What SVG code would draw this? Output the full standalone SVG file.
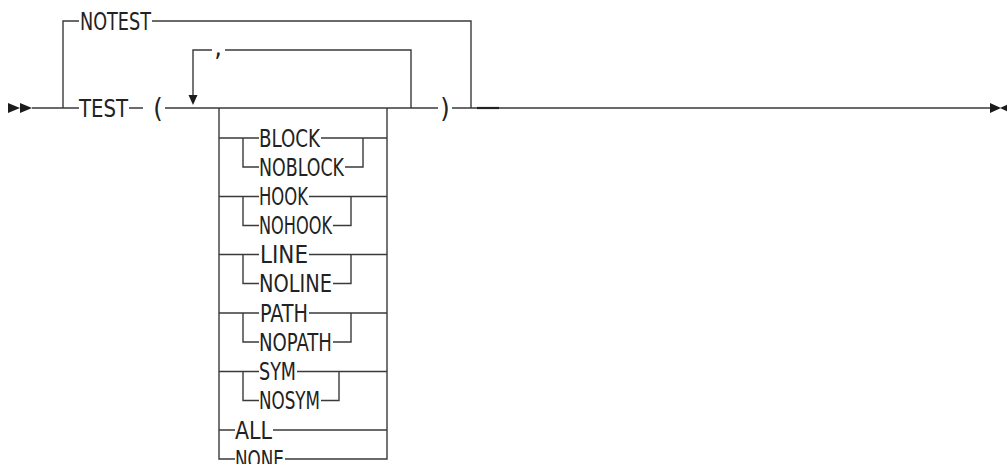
<svg xmlns="http://www.w3.org/2000/svg" width="1007" height="464" viewBox="0 0 1007 464">
<style>
.l{fill:none;stroke:#3a3a3a;stroke-width:1.4}
.k{fill:none;stroke:#222;stroke-width:2.2}
.a{fill:#1c1c1c;stroke:none}
.t{font-family:"DejaVu Sans Condensed","DejaVu Sans",sans-serif;font-size:25px;fill:#222}
.p{font-size:27px}
.m{text-anchor:middle}
</style>
<rect width="1007" height="464" fill="#fff"/>
<g id="connectors">
<path class="a" d="M8 103L20 108L8 113Z M20 103L32 108L20 113Z"/>
<path class="l" d="M32 108H79 M63 108V21H79 M152 21H471V108 M129 108H143 M165 108H438 M452 108H990"/>
<path class="k" d="M477 108H499"/>
<path class="a" d="M990 103L1001 108L990 113Z M1000 108L1011 103L1011 113Z"/>
<path class="l" d="M411 108V50H225 M212 50H193V95"/>
<path class="a" d="M188.5 95H197.5L193 105Z"/>
<path class="l" d="M219 108V459H235 M285 459H387V108"/>
<path class="l" d="M219 138H259 M321 138H387 M243 138V167H259 M345 167H363V138"/>
<path class="l" d="M219 196.5H259 M309 196.5H387 M243 196.5V225.5H259 M333 225.5H351V196.5"/>
<path class="l" d="M219 254.5H259 M309 254.5H387 M243 254.5V283.5H259 M333 283.5H351V254.5"/>
<path class="l" d="M219 313H259 M309 313H387 M243 313V342H259 M333 342H351V313"/>
<path class="l" d="M219 371.5H259 M297 371.5H387 M243 371.5V400.5H259 M321 400.5H339V371.5"/>
<path class="l" d="M219 430H235 M273 430H387"/>
</g>
<g id="node-notest"><text class="t" x="80" y="29.5" textLength="71" lengthAdjust="spacingAndGlyphs">NOTEST</text></g>
<g id="node-test"><text class="t" x="79" y="116.5" textLength="49" lengthAdjust="spacingAndGlyphs">TEST</text></g>
<g id="node-lparen"><text class="t p m" x="158" y="116.5">(</text></g>
<g id="node-rparen"><text class="t p m" x="445" y="116.5">)</text></g>
<g id="node-comma"><text class="t p m" x="218" y="56">,</text></g>
<g id="node-block"><text class="t" x="259" y="146.5" textLength="61" lengthAdjust="spacingAndGlyphs">BLOCK</text></g>
<g id="node-noblock"><text class="t" x="259" y="175.5" textLength="85" lengthAdjust="spacingAndGlyphs">NOBLOCK</text></g>
<g id="node-hook"><text class="t" x="259" y="205" textLength="49" lengthAdjust="spacingAndGlyphs">HOOK</text></g>
<g id="node-nohook"><text class="t" x="259" y="234" textLength="73" lengthAdjust="spacingAndGlyphs">NOHOOK</text></g>
<g id="node-line"><text class="t" x="260" y="263" textLength="48" lengthAdjust="spacingAndGlyphs">LINE</text></g>
<g id="node-noline"><text class="t" x="259" y="292" textLength="73" lengthAdjust="spacingAndGlyphs">NOLINE</text></g>
<g id="node-path"><text class="t" x="260" y="321.5" textLength="48" lengthAdjust="spacingAndGlyphs">PATH</text></g>
<g id="node-nopath"><text class="t" x="259" y="350.5" textLength="73" lengthAdjust="spacingAndGlyphs">NOPATH</text></g>
<g id="node-sym"><text class="t" x="259" y="380" textLength="37" lengthAdjust="spacingAndGlyphs">SYM</text></g>
<g id="node-nosym"><text class="t" x="259" y="409" textLength="61" lengthAdjust="spacingAndGlyphs">NOSYM</text></g>
<g id="node-all"><text class="t" x="235" y="438.5" textLength="37" lengthAdjust="spacingAndGlyphs">ALL</text></g>
<g id="node-none"><text class="t" x="235" y="467.5" textLength="49" lengthAdjust="spacingAndGlyphs">NONE</text></g>
</svg>
